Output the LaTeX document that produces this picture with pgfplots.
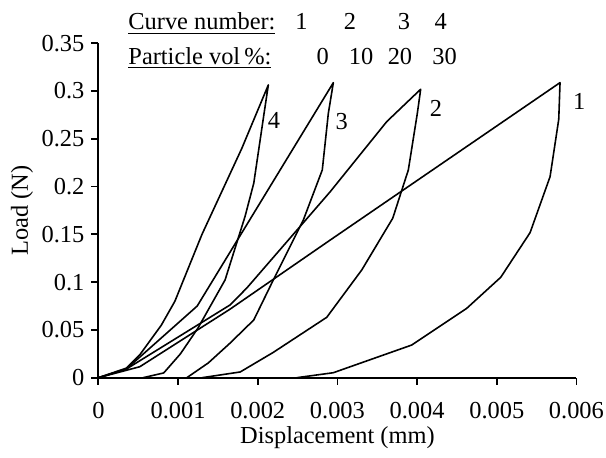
\documentclass[border=0pt]{standalone}
\usepackage{fontspec}
\setmainfont{Liberation Serif}
\usepackage{pgfplots}
\pgfplotsset{compat=1.18}
\newcommand{\lf}{\fontsize{12.2bp}{14.6bp}\selectfont}

\begin{document}
\begin{tikzpicture}
\begin{axis}[
  scale only axis,
  width=239bp, height=167.2bp,
  xmin=0, xmax=0.006, ymin=0, ymax=0.35,
  axis x line*=bottom, axis y line*=left,
  axis line style={line width=0.9pt, -},
  tick align=outside, tick style={line width=0.9pt, black},
  major tick length=3.5bp,
  scaled x ticks=false, scaled y ticks=false,
  xtick={0,0.001,0.002,0.003,0.004,0.005,0.006},
  xticklabels={0,0.001,0.002,0.003,0.004,0.005,0.006},
  ytick={0,0.05,0.1,0.15,0.2,0.25,0.3,0.35},
  yticklabels={0,0.05,0.1,0.15,0.2,0.25,0.3,0.35},
  tick label style={font=\lf},
  xticklabel style={yshift=-7.5bp, inner sep=1pt},
  xlabel={Displacement (mm)}, ylabel={Load (N)},
  every axis x label/.style={at={(axis description cs:0.5,-0.1803)}, anchor=center, font=\lf, inner sep=1pt},
  every axis y label/.style={at={(axis description cs:-0.1598,0.5)}, anchor=center, rotate=90, font=\lf},
  clip=false,
]
\draw[draw=none] (axis cs:-0.001235,-0.0830) rectangle (axis cs:0.006371,0.3953);

% curve 1: 0 vol%
\addplot[black, line width=0.8pt, line join=round] coordinates {(0,0) (0.00052,0.0115) (0.00165,0.0716) (0.00291,0.1441) (0.005794,0.3088)
  (0.005778,0.2705) (0.005669,0.2104) (0.005418,0.1518) (0.00505,0.1051) (0.004623,0.0726)
  (0.003933,0.0342) (0.002948,0.0052) (0.002489,0)};
% curve 2: 10 vol%
\addplot[black, line width=0.8pt, line join=round] coordinates {(0,0) (0.00035,0.009) (0.00165,0.076) (0.00186,0.0936) (0.00291,0.1947)
  (0.003619,0.268) (0.004045,0.3019)
  (0.004003,0.2767) (0.00389,0.2174) (0.003694,0.1668) (0.003305,0.1127) (0.002866,0.0632)
  (0.002195,0.0265) (0.00178,0.006) (0.0013,0)};
% curve 3: 20 vol%
\addplot[black, line width=0.8pt, line join=round] coordinates {(0,0) (0.00035,0.009) (0.00124,0.075) (0.002949,0.3088)
  (0.002886,0.2767) (0.00281,0.2174) (0.002572,0.165) (0.002175,0.0988) (0.00195,0.0604)
  (0.00165,0.036) (0.00138,0.0155) (0.00111,0)};
% curve 4: 30 vol%
\addplot[black, line width=0.8pt, line join=round] coordinates {(0,0) (0.00035,0.01) (0.00052,0.024) (0.00079,0.055) (0.00096,0.08)
  (0.0013,0.15) (0.0018,0.24) (0.002133,0.3064)
  (0.00208,0.277) (0.00195,0.2035) (0.00184,0.1686) (0.00159,0.1023) (0.00125,0.052)
  (0.00103,0.025) (0.00082,0.005) (0.00056,0)};

\node[font=\lf] at (axis cs:0.006036,0.2889) {1};
\node[font=\lf] at (axis cs:0.004237,0.2820) {2};
\node[font=\lf] at (axis cs:0.003054,0.2680) {3};
\node[font=\lf] at (axis cs:0.002204,0.2696) {4};

\node[font=\lf, anchor=base west, inner sep=0pt] at (axis cs:0.000372,0.3639) {\underline{Curve number:}};
\node[font=\lf, anchor=base west, inner sep=0pt] at (axis cs:0.000372,0.3283) {\underline{Particle vol\,\%:}};
\node[font=\lf, anchor=base, inner sep=0pt] at (axis cs:0.002549,0.3639) {1};
\node[font=\lf, anchor=base, inner sep=0pt] at (axis cs:0.003158,0.3639) {2};
\node[font=\lf, anchor=base, inner sep=0pt] at (axis cs:0.003836,0.3639) {3};
\node[font=\lf, anchor=base, inner sep=0pt] at (axis cs:0.004297,0.3639) {4};
\node[font=\lf, anchor=base, inner sep=0pt] at (axis cs:0.002817,0.3283) {0};
\node[font=\lf, anchor=base, inner sep=0pt] at (axis cs:0.003296,0.3283) {10};
\node[font=\lf, anchor=base, inner sep=0pt] at (axis cs:0.003785,0.3283) {20};
\node[font=\lf, anchor=base, inner sep=0pt] at (axis cs:0.004344,0.3283) {30};
\end{axis}
\end{tikzpicture}
\end{document}
